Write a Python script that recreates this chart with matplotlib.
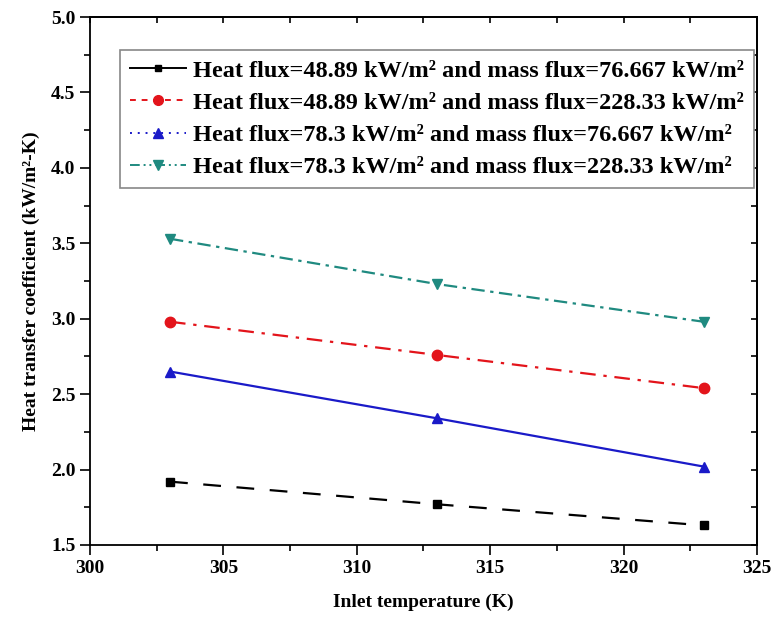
import matplotlib
matplotlib.use("Agg")
import matplotlib.pyplot as plt
from matplotlib.lines import Line2D
from matplotlib.ticker import MultipleLocator, FormatStrFormatter

plt.rcParams['font.family'] = ['Liberation Serif', 'DejaVu Serif']
plt.rcParams['font.weight'] = 'bold'

inlet_temp = [303, 313, 323]
htc_q4889_g76 = [1.92, 1.77, 1.63]
htc_q4889_g228 = [2.98, 2.76, 2.54]
htc_q783_g76 = [2.65, 2.34, 2.02]
htc_q783_g228 = [3.53, 3.23, 2.98]

labels = [
    "Heat flux=48.89 kW/m² and mass flux=76.667 kW/m²",
    "Heat flux=48.89 kW/m² and mass flux=228.33 kW/m²",
    "Heat flux=78.3 kW/m² and mass flux=76.667 kW/m²",
    "Heat flux=78.3 kW/m² and mass flux=228.33 kW/m²",
]

fig = plt.figure(figsize=(7.8, 6.31), dpi=100)
ax = fig.add_axes([0.1154, 0.1363, 0.855, 0.8367])

series = [
    (htc_q4889_g76, 'black', 's', (0, (8, 7)), '-'),
    (htc_q4889_g228, '#e3141b', 'o', (0, (7, 3.5, 1.5, 3.5)), (0, (3, 3))),
    (htc_q783_g76, '#1a1ac8', '^', '-', (0, (1, 3))),
    (htc_q783_g228, '#1f8a80', 'v', (0, (6, 2.5, 1.5, 2.5)), (0, (5, 2, 1, 2, 1, 2))),
]
ms = {'s': 5.5, 'o': 7.5, '^': 7.5, 'v': 7.5}

handles = []
for ys, col, mk, ls, leg_ls in series:
    ax.plot(inlet_temp, ys, color=col, marker=mk, linestyle=ls, lw=1.6,
            markersize=ms[mk], markeredgecolor=col)
    handles.append(Line2D([], [], color=col, marker=mk, linestyle=leg_ls, lw=1.4,
                          markersize=ms[mk] - 0.5, markeredgecolor=col))

ax.set_xlim(300, 325)
ax.set_ylim(1.5, 5.0)
ax.xaxis.set_major_locator(MultipleLocator(5))
ax.xaxis.set_minor_locator(MultipleLocator(2.5))
ax.yaxis.set_major_locator(MultipleLocator(0.5))
ax.yaxis.set_minor_locator(MultipleLocator(0.25))
ax.tick_params(which='both', direction='out', width=1.2, labelsize=14)
ax.tick_params(which='major', length=7)
ax.tick_params(which='minor', length=4)
ax.xaxis.set_major_formatter(FormatStrFormatter('%d'))
ax.yaxis.set_major_formatter(FormatStrFormatter('%.1f'))

# inward ticks on the top and right frame edges
ax_top = ax.secondary_xaxis('top')
ax_top.xaxis.set_major_locator(MultipleLocator(2.5))
ax_top.tick_params(direction='in', length=4, width=1.2, labeltop=False)
ax_right = ax.secondary_yaxis('right')
ax_right.yaxis.set_major_locator(MultipleLocator(0.25))
ax_right.tick_params(direction='in', length=4, width=1.2, labelright=False)

for sp in ax.spines.values():
    sp.set_linewidth(1.3)
ax_top.spines['top'].set_linewidth(1.3)
ax_right.spines['right'].set_linewidth(1.3)

ax.set_xlabel("Inlet temperature (K)", fontsize=14, fontweight='bold', labelpad=12)
ax.set_ylabel("Heat transfer coefficient (kW/m²-K)", fontsize=14, fontweight='bold', labelpad=8)

leg = ax.legend(handles, labels, loc='upper left', bbox_to_anchor=(0.045, 0.9375),
                prop={'family': 'Liberation Serif', 'weight': 'bold', 'size': 17.5},
                frameon=True, fancybox=False, edgecolor='#888888', framealpha=1,
                handlelength=2.3, handletextpad=0.3, borderpad=0.4, labelspacing=0.42,
                borderaxespad=0)
leg.get_frame().set_linewidth(1.2)

fig.savefig("out.png", dpi=100)
